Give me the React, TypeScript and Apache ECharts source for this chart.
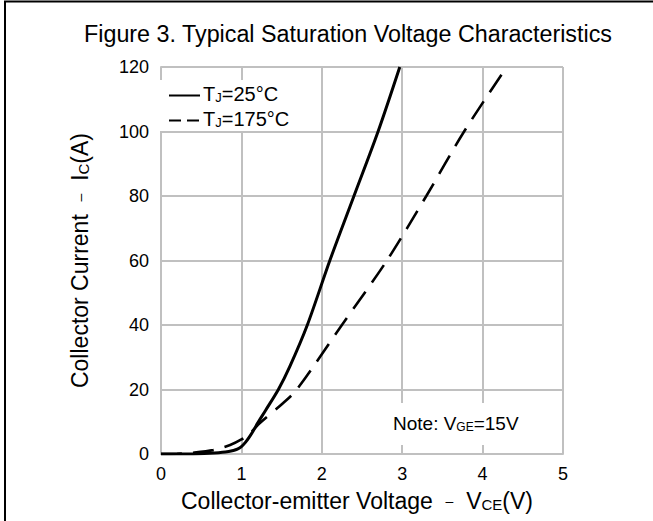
import React, { useEffect, useRef } from "react";
import * as echarts from "echarts";

// ---- data ----
const vce25: number[] = [0, 0.4, 0.6, 0.8, 0.9, 0.95, 1.0, 1.05, 1.1, 1.15, 1.2, 1.3, 1.46, 1.6, 1.82, 2.1, 2.4, 2.7, 2.97];
const ic25: number[] = [0, 0, 0.2, 0.6, 1.1, 1.5, 2.3, 3.6, 5.3, 7.3, 9.5, 13.5, 20, 27, 40, 60, 80, 100, 120];

const vce175: number[] = [0, 0.2, 0.4, 0.65, 0.86, 1.0, 1.11, 1.23, 1.52, 1.69, 2.25, 2.81, 3.3, 3.77, 4.3];
const ic175: number[] = [0, 0.1, 0.4, 1.2, 2.8, 4.5, 6.5, 9.6, 15.8, 20, 40, 60, 80, 100, 120];

const xTicks = { min: 0, max: 5, interval: 1 };
const yTicks = { min: 0, max: 120, interval: 20 };

const seriesNames = ["T{sub|J}=25°C", "T{sub|J}=175°C"];
const titleText = "Figure 3. Typical Saturation Voltage Characteristics";
const xName = "Collector-emitter Voltage  {d|–}  V{sub|CE}(V)";
const yName = "Collector Current  {d|–}  I{sub|C}(A)";
const noteText = "Note: V{sub|GE}=15V";

const FONT = "'Liberation Sans', Arial, Helvetica, sans-serif";
const GRID_COLOR = "#c0c0c0";

function zip(xs: number[], ys: number[]): number[][] {
  return xs.map((x, i) => [x, ys[i]]);
}

export default function App() {
  const ref = useRef<HTMLDivElement>(null);

  useEffect(() => {
    if (!ref.current) return;
    const chart = echarts.init(ref.current, undefined, { renderer: "svg" });

    const nameRich = {
      sub: { fontSize: 15, fontFamily: FONT, color: "#000", verticalAlign: "bottom" as const },
      d: { fontSize: 14, fontFamily: FONT, color: "#000" },
    };

    chart.setOption({
      animation: false,
      backgroundColor: "#fff",
      title: {
        text: titleText,
        left: 343,
        top: 17,
        textAlign: "center",
        textStyle: { fontSize: 23.3, fontWeight: "normal", color: "#000", fontFamily: FONT },
      },
      grid: { left: 161, right: 90, top: 67, bottom: 67 },
      xAxis: {
        type: "value",
        min: xTicks.min,
        max: xTicks.max,
        interval: xTicks.interval,
        name: xName,
        nameLocation: "middle",
        nameGap: 35,
        nameTextStyle: { fontSize: 23, color: "#000", fontFamily: FONT, rich: nameRich, padding: [0, 10, 0, 0] },
        axisLine: { show: true, lineStyle: { color: GRID_COLOR, width: 2 } },
        axisTick: { show: false },
        axisLabel: { fontSize: 18, color: "#000", fontFamily: FONT, margin: 11 },
        splitLine: { show: true, lineStyle: { color: GRID_COLOR, width: 2 } },
      },
      yAxis: {
        type: "value",
        min: yTicks.min,
        max: yTicks.max,
        interval: yTicks.interval,
        name: yName,
        nameLocation: "middle",
        nameGap: 70,
        nameTextStyle: { fontSize: 23, color: "#000", fontFamily: FONT, rich: nameRich },
        axisLine: { show: true, lineStyle: { color: GRID_COLOR, width: 2 } },
        axisTick: { show: false },
        axisLabel: { fontSize: 18, color: "#000", fontFamily: FONT, margin: 12 },
        splitLine: { show: true, lineStyle: { color: GRID_COLOR, width: 2 } },
      },
      series: [
        {
          name: seriesNames[0],
          type: "line",
          data: zip(vce25, ic25),
          showSymbol: false,
          smooth: 0.3,
          lineStyle: { color: "#000", width: 3, type: "solid" },
          z: 3,
        },
        {
          name: seriesNames[1],
          type: "line",
          data: zip(vce175, ic175),
          showSymbol: false,
          smooth: 0.3,
          lineStyle: { color: "#000", width: 2.6, type: [21, 11] },
          z: 3,
        },
      ],
      graphic: [
        // outer frame (top and left edges visible)
        {
          type: "polyline",
          shape: { points: [[5, 521], [5, 1.5], [653, 1.5]] },
          style: { stroke: "#000", lineWidth: 2, fill: null },
          z: 10,
        },
        // legend box
        {
          type: "rect",
          shape: { x: 160, y: 80, width: 133, height: 51 },
          style: { fill: "#fff" },
          z: 5,
        },
        {
          type: "line",
          shape: { x1: 169, y1: 95.5, x2: 200, y2: 95.5 },
          style: { stroke: "#000", lineWidth: 2 },
          z: 6,
        },
        {
          type: "text",
          x: 203,
          y: 94,
          style: {
            text: seriesNames[0],
            fontSize: 20,
            fontFamily: FONT,
            fill: "#000",
            verticalAlign: "middle",
            rich: { sub: { fontSize: 13, fontFamily: FONT, fill: "#000", verticalAlign: "bottom" } },
          },
          z: 6,
        },
        {
          type: "line",
          shape: { x1: 169, y1: 120.5, x2: 200, y2: 120.5 },
          style: { stroke: "#000", lineWidth: 2, lineDash: [12, 6] },
          z: 6,
        },
        {
          type: "text",
          x: 203,
          y: 119,
          style: {
            text: seriesNames[1],
            fontSize: 20,
            fontFamily: FONT,
            fill: "#000",
            verticalAlign: "middle",
            rich: { sub: { fontSize: 13, fontFamily: FONT, fill: "#000", verticalAlign: "bottom" } },
          },
          z: 6,
        },
        // note box
        {
          type: "rect",
          shape: { x: 388, y: 403, width: 132, height: 42 },
          style: { fill: "#fff" },
          z: 5,
        },
        {
          type: "text",
          x: 393,
          y: 423,
          style: {
            text: noteText,
            fontSize: 19,
            fontFamily: FONT,
            fill: "#000",
            verticalAlign: "middle",
            rich: { sub: { fontSize: 12, fontFamily: FONT, fill: "#000", verticalAlign: "bottom" } },
          },
          z: 6,
        },
      ],
    });

    return () => {
      chart.dispose();
    };
  }, []);

  return (
    <div
      ref={ref}
      style={{ position: "fixed", left: 0, top: 0, width: 653, height: 521, background: "#fff" }}
    />
  );
}
